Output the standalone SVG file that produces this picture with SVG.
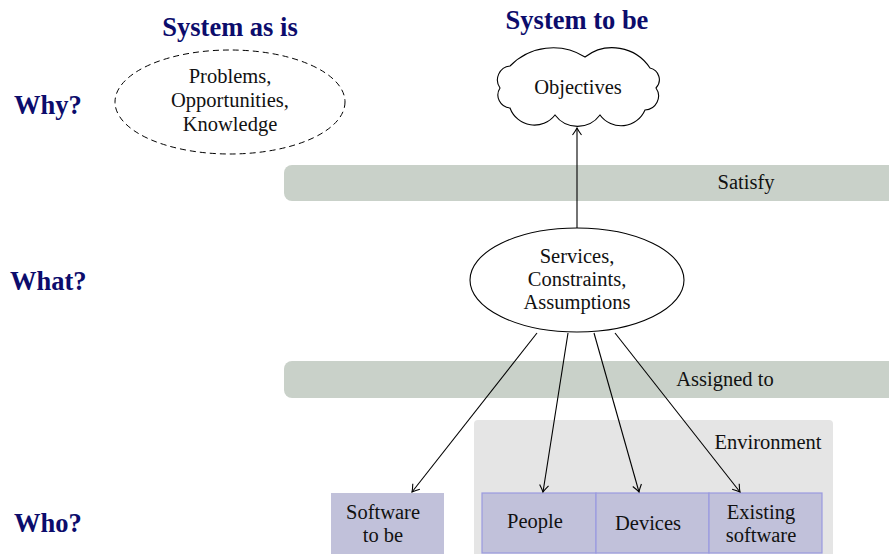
<svg xmlns="http://www.w3.org/2000/svg" width="889" height="554" viewBox="0 0 889 554">
<style>
.t{font-family:"Liberation Serif",serif;font-size:20.5px;fill:#111;text-anchor:middle}
.h{font-family:"Liberation Serif",serif;font-size:26.5px;font-weight:bold;fill:#0c0c6c}
.hc{text-anchor:middle}
.band{fill:#c9d1c9}
.box{fill:#c1c1da}
.bb{stroke:#9a9ae0;stroke-width:1.2}
.ln{stroke:#000;stroke-width:1.1;fill:none}
</style>
<defs>
<marker id="arr" viewBox="-10 -6 12 12" markerWidth="12" markerHeight="12" refX="0" refY="0" orient="auto" markerUnits="userSpaceOnUse">
<path d="M -7 -4.5 Q -2.5 -1.2 0 0 Q -2.5 1.2 -7 4.5" fill="none" stroke="#000" stroke-width="1.1"/>
</marker>
</defs>
<rect width="889" height="554" fill="#fff"/>
<g id="labels">
<text class="h hc" x="230" y="36">System as is</text>
<text class="h hc" x="577" y="29">System to be</text>
<text class="h" x="14" y="114">Why?</text>
<text class="h" x="10" y="290">What?</text>
<text class="h" x="14" y="532">Who?</text>
</g>
<g id="band-satisfy">
<rect class="band" x="284" y="165" width="620" height="36" rx="8"/>
<text class="t" x="746" y="189">Satisfy</text>
</g>
<g id="band-assigned">
<rect class="band" x="284" y="361" width="620" height="37" rx="8"/>
<text class="t" x="725" y="386">Assigned to</text>
</g>
<g id="environment">
<rect x="474" y="420" width="359" height="150" rx="4" fill="#e5e5e5"/>
<text class="t" x="768" y="449">Environment</text>
</g>
<g id="system-as-is">
<ellipse cx="230" cy="102" rx="115" ry="52" fill="none" stroke="#000" stroke-width="1" stroke-dasharray="6,4"/>
<text class="t" x="230" y="83">Problems,</text>
<text class="t" x="230" y="107">Opportunities,</text>
<text class="t" x="230" y="131">Knowledge</text>
</g>
<g id="objectives">
<path d="M 510 66 A 60 60 0 0 1 585 57 A 45 45 0 0 1 650 68 A 12 12 0 0 1 656 88 A 14 14 0 0 1 645 110 A 26 26 0 0 1 600 115 A 28 28 0 0 1 555 115 A 26 26 0 0 1 510 108 A 13 13 0 0 1 500 88 A 14 14 0 0 1 510 66 Z" fill="#fff" stroke="#000" stroke-width="1.1"/>
<text class="t" x="578" y="94">Objectives</text>
</g>
<g id="services">
<ellipse cx="577" cy="280" rx="107" ry="52" fill="#fff" stroke="#000" stroke-width="1.1"/>
<text class="t" x="577" y="263">Services,</text>
<text class="t" x="577" y="286">Constraints,</text>
<text class="t" x="577" y="309">Assumptions</text>
</g>
<g id="software-to-be">
<rect class="box" x="331" y="493" width="113" height="61"/>
<text class="t" x="383" y="519">Software</text>
<text class="t" x="383" y="542">to be</text>
</g>
<g id="people">
<rect class="box bb" x="482" y="493" width="114" height="60"/>
<text class="t" x="535" y="528">People</text>
</g>
<g id="devices">
<rect class="box bb" x="596" y="493" width="113" height="60"/>
<text class="t" x="648" y="530">Devices</text>
</g>
<g id="existing-software">
<rect class="box bb" x="709" y="493" width="113" height="60"/>
<text class="t" x="761" y="519">Existing</text>
<text class="t" x="761" y="542">software</text>
</g>
<g id="connectors">
<line class="ln" x1="577" y1="228" x2="577" y2="128" marker-end="url(#arr)"/>
<line class="ln" x1="537" y1="333" x2="412" y2="492" marker-end="url(#arr)"/>
<line class="ln" x1="568" y1="333" x2="543" y2="492" marker-end="url(#arr)"/>
<line class="ln" x1="594" y1="333" x2="639" y2="492" marker-end="url(#arr)"/>
<line class="ln" x1="615" y1="333" x2="740" y2="492" marker-end="url(#arr)"/>
</g>
</svg>
